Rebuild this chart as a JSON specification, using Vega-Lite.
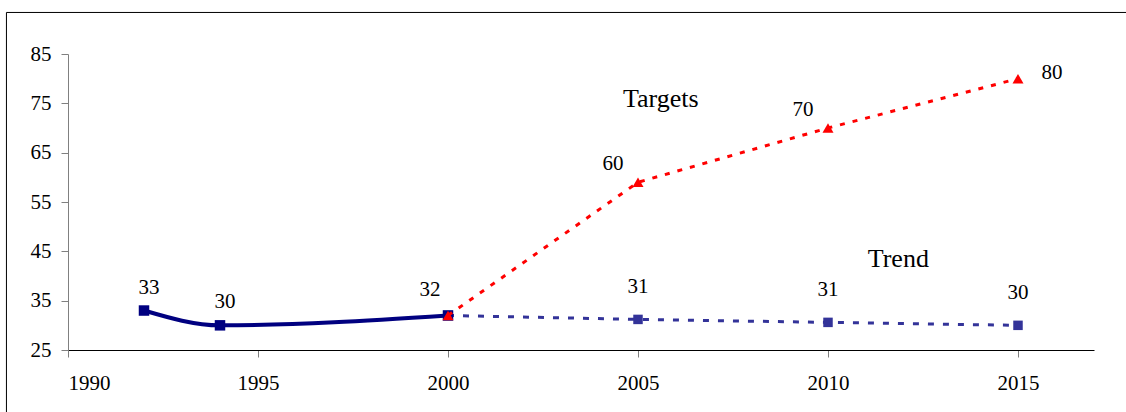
{
  "$schema": "https://vega.github.io/schema/vega-lite/v6.json",
  "width": 1026,
  "height": 296,
  "autosize": {"type": "none"},
  "padding": {"left": 68, "top": 54, "right": 32, "bottom": 62},
  "background": "white",
  "config": {
    "view": {"stroke": null},
    "font": "Liberation Serif",
    "text": {"font": "Liberation Serif", "fontSize": 21, "color": "black"},
    "axis": {
      "labelFont": "Liberation Serif",
      "labelFontSize": 21,
      "labelColor": "black",
      "grid": false,
      "title": null,
      "tickColor": "#808080",
      "tickSize": 7,
      "tickWidth": 1,
      "domainWidth": 1
    }
  },
  "datasets": {
    "frame": [{"x1": 1988.38, "x2": 2060, "y1": 93.42, "y2": -60}],
    "hist": [
      {"year": 1992, "value": 33, "label": "33"},
      {"year": 1994, "value": 30, "label": "30"},
      {"year": 2000, "value": 32, "label": "32"}
    ],
    "trend": [
      {"year": 2000, "value": 32, "label": ""},
      {"year": 2005, "value": 31.2, "label": "31"},
      {"year": 2010, "value": 30.6, "label": "31"},
      {"year": 2015, "value": 30, "label": "30"}
    ],
    "targets": [
      {"year": 2000, "value": 32, "label": ""},
      {"year": 2005, "value": 59, "label": "60"},
      {"year": 2010, "value": 70, "label": "70"},
      {"year": 2015, "value": 80, "label": "80"}
    ],
    "notes": [
      {"year": 2005.6, "value": 74.3, "text": "Targets"},
      {"year": 2011.85, "value": 41.9, "text": "Trend"}
    ]
  },
  "layer": [
    {
      "data": {"name": "frame"},
      "mark": {"type": "rule", "color": "black", "strokeWidth": 1, "clip": false},
      "encoding": {
        "x": {"field": "x1", "type": "quantitative", "scale": {"domain": [1990, 2017], "nice": false, "zero": false}},
        "x2": {"field": "x2"},
        "y": {"field": "y1", "type": "quantitative", "scale": {"domain": [25, 85], "nice": false, "zero": false}}
      }
    },
    {
      "data": {"name": "frame"},
      "mark": {"type": "rule", "color": "black", "strokeWidth": 1, "clip": false},
      "encoding": {
        "x": {"field": "x1", "type": "quantitative"},
        "y": {"field": "y1", "type": "quantitative"},
        "y2": {"field": "y2"}
      }
    },
    {
      "data": {"name": "trend"},
      "mark": {"type": "line", "color": "#333399", "strokeWidth": 3, "strokeDash": [6, 9]},
      "encoding": {
        "x": {
          "field": "year",
          "type": "quantitative",
          "scale": {"domain": [1990, 2017], "nice": false, "zero": false},
          "axis": {
            "values": [1990, 1995, 2000, 2005, 2010, 2015],
            "format": "d",
            "domainColor": "black",
            "labelPadding": 15
          }
        },
        "y": {
          "field": "value",
          "type": "quantitative",
          "scale": {"domain": [25, 85], "nice": false, "zero": false},
          "axis": {
            "values": [25, 35, 45, 55, 65, 75, 85],
            "domainColor": "#808080",
            "labelPadding": 10
          }
        }
      }
    },
    {
      "data": {"name": "trend"},
      "mark": {"type": "point", "shape": "square", "filled": true, "color": "#333399", "opacity": 1, "size": 90},
      "encoding": {"x": {"field": "year", "type": "quantitative"}, "y": {"field": "value", "type": "quantitative"}}
    },
    {
      "data": {"name": "hist"},
      "mark": {"type": "line", "color": "#000080", "strokeWidth": 4, "interpolate": "monotone"},
      "encoding": {"x": {"field": "year", "type": "quantitative"}, "y": {"field": "value", "type": "quantitative"}}
    },
    {
      "data": {"name": "hist"},
      "mark": {"type": "point", "shape": "square", "filled": true, "color": "#000080", "opacity": 1, "size": 110},
      "encoding": {"x": {"field": "year", "type": "quantitative"}, "y": {"field": "value", "type": "quantitative"}}
    },
    {
      "data": {"name": "targets"},
      "mark": {"type": "line", "color": "#FF0000", "strokeWidth": 3, "strokeDash": [5, 8]},
      "encoding": {"x": {"field": "year", "type": "quantitative"}, "y": {"field": "value", "type": "quantitative"}}
    },
    {
      "data": {"name": "targets"},
      "mark": {"type": "point", "shape": "triangle-up", "filled": true, "color": "#FF0000", "opacity": 1, "size": 121},
      "encoding": {"x": {"field": "year", "type": "quantitative"}, "y": {"field": "value", "type": "quantitative"}}
    },
    {
      "data": {"name": "hist"},
      "transform": [{"filter": "datum.year < 2000"}],
      "mark": {"type": "text", "baseline": "alphabetic", "dx": 5, "dy": -17},
      "encoding": {"x": {"field": "year", "type": "quantitative"}, "y": {"field": "value", "type": "quantitative"}, "text": {"field": "label"}}
    },
    {
      "data": {"name": "hist"},
      "transform": [{"filter": "datum.year == 2000"}],
      "mark": {"type": "text", "baseline": "alphabetic", "dx": -18, "dy": -19.5},
      "encoding": {"x": {"field": "year", "type": "quantitative"}, "y": {"field": "value", "type": "quantitative"}, "text": {"field": "label"}}
    },
    {
      "data": {"name": "trend"},
      "transform": [{"filter": "datum.year > 2000"}],
      "mark": {"type": "text", "baseline": "alphabetic", "dy": -26.5},
      "encoding": {"x": {"field": "year", "type": "quantitative"}, "y": {"field": "value", "type": "quantitative"}, "text": {"field": "label"}}
    },
    {
      "data": {"name": "targets"},
      "transform": [{"filter": "datum.year > 2000 && datum.year < 2015"}],
      "mark": {"type": "text", "baseline": "alphabetic", "dx": -25, "dy": -12},
      "encoding": {"x": {"field": "year", "type": "quantitative"}, "y": {"field": "value", "type": "quantitative"}, "text": {"field": "label"}}
    },
    {
      "data": {"name": "targets"},
      "transform": [{"filter": "datum.year == 2015"}],
      "mark": {"type": "text", "baseline": "alphabetic", "dx": 34, "dy": 0.5},
      "encoding": {"x": {"field": "year", "type": "quantitative"}, "y": {"field": "value", "type": "quantitative"}, "text": {"field": "label"}}
    },
    {
      "data": {"name": "notes"},
      "mark": {"type": "text", "baseline": "alphabetic", "fontSize": 26},
      "encoding": {"x": {"field": "year", "type": "quantitative"}, "y": {"field": "value", "type": "quantitative"}, "text": {"field": "text"}}
    }
  ]
}
